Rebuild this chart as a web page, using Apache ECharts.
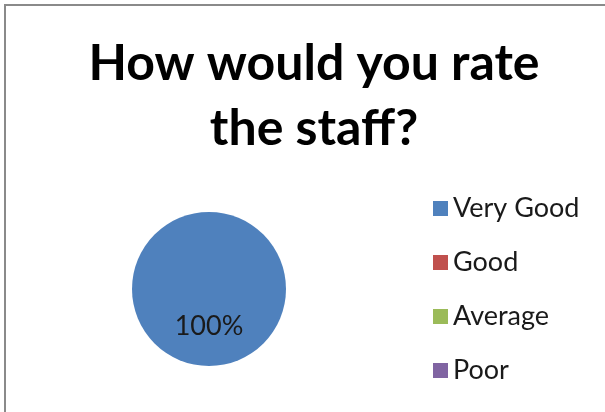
<!DOCTYPE html>
<html>
<head>
<meta charset="utf-8">
<title>How would you rate the staff?</title>
<script src="https://cdn.jsdelivr.net/npm/echarts@6/dist/echarts.min.js"></script>
<style>
  html, body { margin: 0; padding: 0; background: #fff; }
  #chart { width: 605px; height: 412px; }
</style>
</head>
<body>
<div id="chart"></div>
<script>
// Survey answers for staff rating
const categories = ['Very Good', 'Good', 'Average', 'Poor'];
const responses = [100, 0, 0, 0];
const sliceColors = ['#4F81BD', '#C0504D', '#9BBB59', '#8064A2'];
const chartTitle = 'How would you rate\nthe staff?';

const chart = echarts.init(document.getElementById('chart'), null, { renderer: 'canvas' });

const pieData = categories.map((name, i) => ({
  name: name,
  value: responses[i],
  itemStyle: { color: sliceColors[i] }
}));

chart.setOption({
  animation: false,
  backgroundColor: '#ffffff',
  title: {
    text: chartTitle,
    left: 309,
    top: 26,
    textAlign: 'center',
    textStyle: {
      fontFamily: 'Lato',
      fontWeight: 'bold',
      fontSize: 50,
      lineHeight: 65,
      color: '#000000'
    }
  },
  legend: {
    orient: 'vertical',
    left: 428,
    top: 190,
    icon: 'rect',
    itemWidth: 15,
    itemHeight: 15,
    itemGap: 27,
    selectedMode: false,
    textStyle: {
      fontFamily: 'Lato',
      fontSize: 27,
      color: '#1a1a1a'
    },
    data: categories
  },
  graphic: [{
    type: 'polyline',
    shape: { points: [[5, 412], [5, 5], [605, 5]] },
    style: { stroke: '#8a8a8a', lineWidth: 2, fill: null },
    silent: true
  }],
  series: [{
    type: 'pie',
    center: [209, 289],
    radius: 77,
    startAngle: 90,
    clockwise: true,
    avoidLabelOverlap: false,
    label: {
      show: true,
      position: 'inside',
      offset: [0, -4],
      fontFamily: 'Lato',
      fontSize: 27,
      color: '#1a1a1a',
      formatter: p => (p.value > 0 ? Math.round(p.percent) + '%' : '')
    },
    labelLine: { show: false },
    emphasis: { disabled: true },
    itemStyle: { borderWidth: 0 },
    data: pieData
  }]
});
</script>
</body>
</html>
